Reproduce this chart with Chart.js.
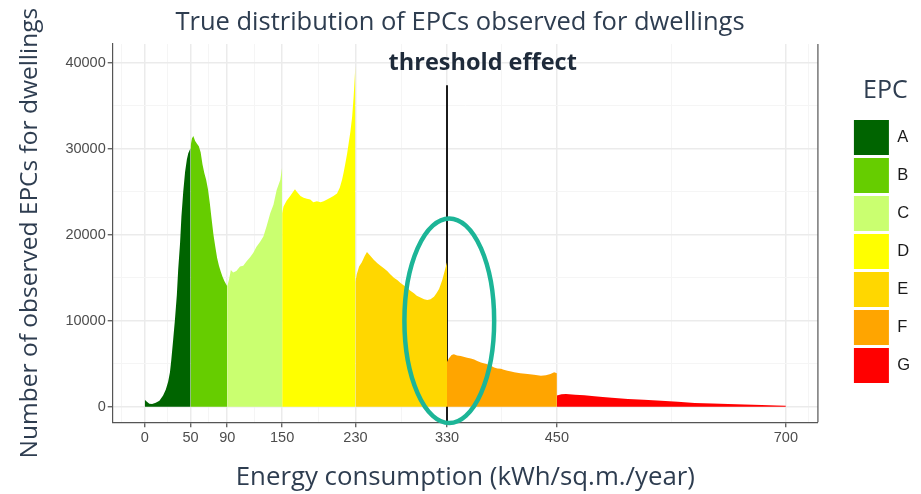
<!DOCTYPE html>
<html>
<head>
<meta charset="utf-8">
<script src="https://cdn.jsdelivr.net/npm/chart.js@4.4.1/dist/chart.umd.min.js"></script>
<style>
  html, body { margin: 0; padding: 0; background: #ffffff; }
  #wrap { width: 921px; height: 494px; }
</style>
</head>
<body>
<div id="wrap"><canvas id="epcChart"></canvas></div>
<script>
// EPC classes and their colours
const epcClasses = ['A', 'B', 'C', 'D', 'E', 'F', 'G'];
const epcColors = ['#006400', '#66CD00', '#CAFF70', '#FFFF00', '#FFD700', '#FFA500', '#FF0000'];

// ticks of the x axis (class limits) and of the y axis
const xTicks = [0, 50, 90, 150, 230, 330, 450, 700];
const xMinorTicks = [-25, 25, 70, 120, 190, 280, 390, 575, 725];
const yTicks = [0, 10000, 20000, 30000, 40000];
const yMinorTicks = [5000, 15000, 25000, 35000];

// histogram, one pair of arrays per class
const energyA = [0, 2, 5, 8, 12, 16, 20, 23, 25.5, 27.5, 29, 31, 33, 35, 36.5, 38.5, 40, 42, 44, 46, 47.5, 50];
const countA = [800, 600, 350, 300, 450, 700, 1300, 2000, 2900, 4000, 5500, 7800, 10200, 13000, 16000, 19000, 22100, 25000, 27300, 28800, 29500, 30100];

const energyB = [50, 51.5, 53, 55, 57, 59, 61, 63, 65, 67, 69, 71, 73, 75, 77, 79, 81, 83, 85, 87, 90];
const countB = [30300, 31200, 31500, 30900, 30600, 30300, 29600, 28200, 27200, 26400, 25300, 23700, 21800, 20000, 18600, 17300, 16400, 15700, 15100, 14600, 14000];

const energyC = [90, 92, 94, 96.5, 100, 104, 107.5, 111, 115, 118.5, 122, 126, 129.5, 133, 137, 140.5, 144, 148, 150];
const countC = [14000, 14800, 15900, 15600, 15800, 16300, 16400, 16900, 17400, 17900, 18600, 19200, 19800, 21000, 22500, 23500, 25200, 26400, 27900];

const energyD = [150, 151.5, 155, 158.8, 162, 164, 166, 170, 173.4, 177, 180.7, 184, 188, 192, 195.3, 199, 202.6, 206, 209.9, 213, 215.4, 217, 219, 221, 222.7, 224.5, 226.4, 228, 230];
const countD = [22500, 23300, 24000, 24500, 25000, 25300, 25000, 24500, 24300, 24200, 24100, 23800, 23900, 23800, 23900, 24100, 24300, 24500, 24800, 25500, 26400, 27200, 28300, 29500, 30700, 32000, 33700, 36000, 39700];

const energyE = [230, 231.5, 234, 237, 240, 242.6, 246, 250, 254, 257.4, 261, 264.7, 268, 272, 276, 279.3, 283, 286.6, 290, 293.9, 297, 301, 305, 308.5, 312, 315.8, 318.5, 321.3, 323, 325, 327, 330];
const countE = [14500, 15400, 16300, 16800, 17500, 18000, 17600, 17100, 16700, 16400, 16100, 15800, 15400, 15000, 14700, 14400, 14100, 13800, 13500, 13200, 12900, 12700, 12500, 12400, 12500, 12800, 13200, 13700, 14200, 14800, 15600, 16800];

const energyF = [330, 332, 335, 337.5, 341, 345, 348, 352, 356, 359.6, 363, 367, 370, 374, 378, 381.4, 385, 388.8, 392, 396, 400, 403.4, 410, 418, 425, 432.6, 438, 443, 447, 450];
const countF = [5200, 5600, 6000, 6100, 5950, 5900, 5800, 5700, 5600, 5500, 5300, 5150, 5050, 4950, 4750, 4550, 4450, 4400, 4300, 4170, 4080, 4000, 3900, 3800, 3700, 3600, 3650, 3800, 4000, 3900];

const energyG = [450, 455, 460, 470, 480, 491, 500, 510, 527.6, 545, 564, 582, 600.5, 620, 637, 655, 673.6, 690, 700];
const countG = [1300, 1450, 1480, 1400, 1320, 1200, 1120, 1040, 900, 800, 700, 560, 430, 360, 310, 250, 200, 150, 120];

const energyByClass = [energyA, energyB, energyC, energyD, energyE, energyF, energyG];
const countByClass = [countA, countB, countC, countD, countE, countF, countG];

// threshold marker (x = 330) and the ellipse round it
const thresholdX = [330, 330];
const thresholdY = [-1800, 37400];
const ellipseCenter = [332.5, 10000];
const ellipseRadius = [49, 11900];

const axisFont = "'Liberation Sans', Arial, sans-serif";
const titleFont = "'Open Sans', sans-serif";
const titleColor = '#2e3d50';

const datasets = epcClasses.map((label, i) => ({
    label: label,
    data: energyByClass[i].map((x, j) => ({ x: x, y: countByClass[i][j] })),
    backgroundColor: epcColors[i],
    borderWidth: 0,
    pointRadius: 0,
    fill: 'origin',
    tension: 0
}));

datasets.push({
    label: 'threshold',
    data: thresholdX.map((x, j) => ({ x: x, y: thresholdY[j] })),
    borderColor: '#1b1b1b',
    borderWidth: 2,
    pointRadius: 0,
    fill: false,
    clip: false
});

// ellipse + "threshold effect" label + right panel border
const notesPlugin = {
    id: 'notes',
    afterDatasetsDraw(chart) {
        const { ctx, chartArea } = chart;
        const xs = chart.scales.x;
        const ys = chart.scales.y;
        ctx.save();
        ctx.strokeStyle = '#555555';
        ctx.lineWidth = 1.2;
        ctx.beginPath();
        ctx.moveTo(chartArea.right, chartArea.top);
        ctx.lineTo(chartArea.right, chartArea.bottom);
        ctx.stroke();

        const cx = xs.getPixelForValue(ellipseCenter[0]);
        const cy = ys.getPixelForValue(ellipseCenter[1]);
        const rx = xs.getPixelForValue(ellipseCenter[0] + ellipseRadius[0]) - cx;
        const ry = cy - ys.getPixelForValue(ellipseCenter[1] + ellipseRadius[1]);
        ctx.strokeStyle = '#1cb597';
        ctx.lineWidth = 4.5;
        ctx.beginPath();
        ctx.ellipse(cx, cy, rx, ry, 0, 0, Math.PI * 2);
        ctx.stroke();

        ctx.fillStyle = '#1e2a3a';
        ctx.font = "bold 23.5px 'Open Sans', sans-serif";
        ctx.textAlign = 'center';
        ctx.textBaseline = 'middle';
        ctx.fillText('threshold effect', xs.getPixelForValue(369), ys.getPixelForValue(40000));
        ctx.restore();
    }
};

const isMajorX = v => xTicks.includes(v);
const isMajorY = v => yTicks.includes(v);

const config = {
    type: 'line',
    data: { datasets: datasets },
    options: {
        responsive: true,
        maintainAspectRatio: false,
        animation: false,
        layout: { padding: { left: 0, right: 1, top: 0, bottom: 0 } },
        scales: {
            x: {
                type: 'linear',
                min: -35,
                max: 735,
                afterBuildTicks: scale => {
                    scale.ticks = xTicks.concat(xMinorTicks).sort((a, b) => a - b).map(v => ({ value: v }));
                },
                ticks: {
                    autoSkip: false,
                    maxRotation: 0,
                    padding: 2,
                    color: '#4d4d4d',
                    font: { family: axisFont, size: 14.5 },
                    callback: v => isMajorX(v) ? String(v) : ''
                },
                grid: {
                    color: c => c.tick && isMajorX(c.tick.value) ? '#ebebeb' : '#f5f5f5',
                    lineWidth: c => c.tick && isMajorX(c.tick.value) ? 1.5 : 1,
                    tickColor: c => c.tick && isMajorX(c.tick.value) ? '#4d4d4d' : 'rgba(0,0,0,0)',
                    tickLength: 5,
                    tickWidth: 1.2
                },
                border: { display: true, color: '#555555', width: 1.2 },
                title: {
                    display: true,
                    text: 'Energy consumption (kWh/sq.m./year)',
                    color: titleColor,
                    font: { family: titleFont, size: 25.8 },
                    padding: { top: 14, bottom: 0.5 }
                }
            },
            y: {
                type: 'linear',
                min: -1800,
                max: 42200,
                afterBuildTicks: scale => {
                    scale.ticks = yTicks.concat(yMinorTicks).sort((a, b) => a - b).map(v => ({ value: v }));
                },
                ticks: {
                    padding: 2,
                    color: '#4d4d4d',
                    font: { family: axisFont, size: 14.5 },
                    callback: v => isMajorY(v) ? String(v) : ''
                },
                grid: {
                    color: c => c.tick && isMajorY(c.tick.value) ? '#ebebeb' : '#f5f5f5',
                    lineWidth: c => c.tick && isMajorY(c.tick.value) ? 1.5 : 1,
                    tickColor: c => c.tick && isMajorY(c.tick.value) ? '#4d4d4d' : 'rgba(0,0,0,0)',
                    tickLength: 5,
                    tickWidth: 1.2
                },
                border: { display: true, color: '#555555', width: 1.2 },
                title: {
                    display: true,
                    text: 'Number of observed EPCs for dwellings',
                    color: titleColor,
                    font: { family: titleFont, size: 24.5 },
                    padding: { top: 15, bottom: 19 }
                }
            },
            gap: {
                type: 'linear',
                position: 'right',
                display: true,
                grid: { display: false },
                ticks: { display: false },
                border: { display: false },
                afterFit: scale => { scale.width = 33; }
            }
        },
        plugins: {
            title: {
                display: true,
                text: 'True distribution of EPCs observed for dwellings',
                color: titleColor,
                font: { family: titleFont, size: 25.5, weight: 'normal' },
                padding: { top: 7.7, bottom: 5.7 }
            },
            legend: {
                position: 'right',
                align: 'start',
                title: {
                    display: true,
                    text: 'EPC',
                    color: titleColor,
                    font: { family: titleFont, size: 25 },
                    padding: { top: 78.5, bottom: 8.5 }
                },
                labels: {
                    boxWidth: 35,
                    boxHeight: 35,
                    padding: 3,
                    color: '#1a1a1a',
                    font: { family: axisFont, size: 16.5 },
                    filter: item => item.datasetIndex < epcClasses.length
                }
            },
            tooltip: { enabled: false }
        }
    },
    plugins: [notesPlugin]
};

const epcChart = new Chart(document.getElementById('epcChart'), config);
</script>
</body>
</html>
